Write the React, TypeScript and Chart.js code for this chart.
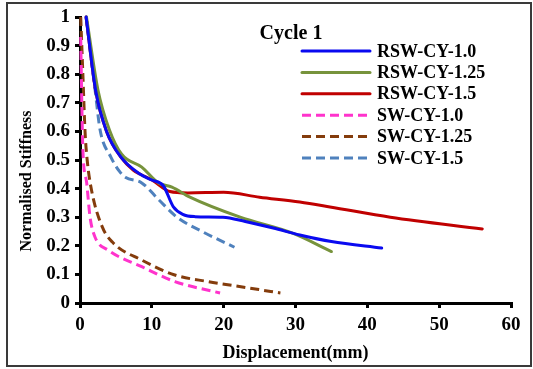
import React, { useEffect, useRef } from "react";
import { Chart, registerables } from "chart.js";

Chart.register(...registerables);

const FONT = "'Liberation Serif', 'Times New Roman', serif";

const seriesNames = ["RSW-CY-1.0", "RSW-CY-1.25", "RSW-CY-1.5", "SW-CY-1.0", "SW-CY-1.25", "SW-CY-1.5"];
const seriesColors = ["#0A0AF0", "#77933C", "#C00000", "#FF33CC", "#843C0C", "#4F81BD"];
const seriesDashed = [false, false, false, true, true, true];

const rswCy10X = [0.85, 2.2, 3.7, 5.7, 8.4, 10, 11.6, 13, 14.3, 16, 19.9, 23, 26.9, 30.6, 35, 42];
const rswCy10Y = [1.0, 0.74, 0.6, 0.51, 0.45, 0.43, 0.41, 0.336, 0.31, 0.302, 0.3, 0.285, 0.262, 0.238, 0.215, 0.192];

const rswCy125X = [0.9, 2.5, 4.1, 5.8, 8.6, 10.9, 12.8, 15.3, 22.3, 29.5, 35];
const rswCy125Y = [1.0, 0.745, 0.605, 0.52, 0.475, 0.42, 0.405, 0.37, 0.3, 0.245, 0.18];

const rswCy15X = [0.85, 2.2, 3.7, 5.7, 7.4, 8.4, 10, 12.5, 15, 20, 25, 30.6, 34.8, 43.2, 56];
const rswCy15Y = [1.0, 0.74, 0.6, 0.51, 0.465, 0.45, 0.43, 0.39, 0.385, 0.387, 0.37, 0.353, 0.336, 0.3, 0.259];

const swCy10X = [0.1, 0.25, 0.4, 0.93, 1.4, 2.1, 3.9, 8.6, 13.2, 19.5];
const swCy10Y = [0.93, 0.7, 0.535, 0.42, 0.3, 0.23, 0.185, 0.127, 0.075, 0.035];

const swCy125X = [0.1, 0.4, 0.7, 1.0, 1.6, 3.1, 4.5, 8.6, 13.2, 17.8, 21.6, 27.9];
const swCy125Y = [1.0, 0.8, 0.6, 0.5, 0.395, 0.266, 0.213, 0.15, 0.098, 0.075, 0.06, 0.035];

const swCy15X = [0.85, 2.1, 2.8, 4.3, 5.5, 6.3, 8.6, 11, 13.5, 17, 21.5];
const swCy15Y = [1.0, 0.745, 0.605, 0.51, 0.46, 0.44, 0.42, 0.36, 0.3, 0.25, 0.195];

const seriesX = [rswCy10X, rswCy125X, rswCy15X, swCy10X, swCy125X, swCy15X];
const seriesY = [rswCy10Y, rswCy125Y, rswCy15Y, swCy10Y, swCy125Y, swCy15Y];

const xTickValues = [0, 10, 20, 30, 40, 50, 60];
const xTickLabels = ["0", "10", "20", "30", "40", "50", "60"];
const yTickValues = [0, 0.1, 0.2, 0.3, 0.4, 0.5, 0.6, 0.7, 0.8, 0.9, 1];
const yTickLabels = ["0", "0.1", "0.2", "0.3", "0.4", "0.5", "0.6", "0.7", "0.8", "0.9", "1"];

const chartTitle = "Cycle 1";
const xTitle = "Displacement(mm)";
const yTitle = "Normalised Stiffness";

const DASH = [9, 5];

const framePlugin = {
  id: "frame",
  beforeDraw(chart: any) {
    const ctx = chart.ctx;
    ctx.save();
    ctx.fillStyle = "#ffffff";
    ctx.fillRect(0, 0, chart.width, chart.height);
    ctx.strokeStyle = "#3a3a3a";
    ctx.lineWidth = 2;
    ctx.strokeRect(7, 3, 524, 363);
    ctx.restore();
  },
};

const textPlugin = {
  id: "insideLegend",
  afterDraw(chart: any) {
    const ctx = chart.ctx;
    ctx.save();
    ctx.fillStyle = "#000";
    ctx.font = `bold 20px ${FONT}`;
    ctx.textAlign = "center";
    ctx.textBaseline = "middle";
    ctx.fillText(chartTitle, 291, 34);

    // y axis title, centred where the reference places it
    ctx.save();
    ctx.translate(27, 181);
    ctx.rotate(-Math.PI / 2);
    ctx.font = `bold 16px ${FONT}`;
    ctx.fillText(yTitle, 0, 0);
    ctx.restore();

    ctx.font = `bold 18px ${FONT}`;
    ctx.textAlign = "left";
    chart.data.datasets.forEach((ds: any, i: number) => {
      const y = 51 + i * 21.4;
      ctx.beginPath();
      ctx.strokeStyle = ds.borderColor;
      ctx.lineWidth = 3;
      ctx.lineCap = ds.borderDash && ds.borderDash.length ? "butt" : "round";
      ctx.setLineDash(ds.borderDash || []);
      ctx.moveTo(302, y);
      ctx.lineTo(370, y);
      ctx.stroke();
      ctx.setLineDash([]);
      ctx.fillStyle = "#000";
      ctx.fillText(ds.label, 377, y + 1);
    });
    ctx.restore();
  },
};

export default function App() {
  const ref = useRef<HTMLCanvasElement | null>(null);

  useEffect(() => {
    if (!ref.current) return;
    const datasets = seriesNames.map((name, i) => ({
      label: name,
      data: seriesX[i].map((x, j) => ({ x, y: seriesY[i][j] })),
      borderColor: seriesColors[i],
      backgroundColor: seriesColors[i],
      borderWidth: 3,
      borderDash: seriesDashed[i] ? DASH : [],
      borderCapStyle: seriesDashed[i] ? "butt" : "round",
      pointRadius: 0,
      pointHoverRadius: 0,
      fill: false,
      cubicInterpolationMode: "monotone",
      clip: 6,
    }));
    const tickFont = { family: FONT, size: 19, weight: "bold" as const };
    const chart = new Chart(ref.current, {
      type: "line",
      data: { datasets: datasets as any },
      plugins: [framePlugin, textPlugin],
      options: {
        responsive: false,
        animation: false,
        events: [],
        layout: { padding: { left: 0, top: 17, right: 22, bottom: 0 } },
        plugins: { legend: { display: false }, title: { display: false }, tooltip: { enabled: false } },
        scales: {
          x: {
            type: "linear",
            min: 0,
            max: 60,
            afterBuildTicks: (s: any) => {
              s.ticks = xTickValues.map((v) => ({ value: v }));
            },
            afterFit: (s: any) => {
              s.height = 66;
            },
            ticks: {
              callback: (_v: any, i: number) => xTickLabels[i],
              font: tickFont,
              color: "#000",
              padding: 6,
              maxRotation: 0,
              autoSkip: false,
            },
            grid: { display: true, drawOnChartArea: false, drawTicks: true, tickLength: 5, color: "#000", lineWidth: 3 },
            border: { display: true, color: "#000", width: 3 },
            title: {
              display: true,
              text: xTitle,
              color: "#000",
              font: { family: FONT, size: 18, weight: "bold" },
              padding: { top: 0, bottom: 5 },
            },
          },
          y: {
            type: "linear",
            min: 0,
            max: 1,
            afterBuildTicks: (s: any) => {
              s.ticks = yTickValues.map((v) => ({ value: v }));
            },
            afterFit: (s: any) => {
              s.width = 80;
            },
            ticks: {
              callback: (_v: any, i: number) => yTickLabels[i],
              font: tickFont,
              color: "#000",
              padding: 5,
              autoSkip: false,
            },
            grid: { display: true, drawOnChartArea: false, drawTicks: true, tickLength: 5, color: "#000", lineWidth: 3 },
            border: { display: true, color: "#000", width: 3 },
            title: { display: false },
          },
        },
      } as any,
    });
    return () => chart.destroy();
  }, []);

  return (
    <div style={{ position: "fixed", left: 0, top: 0, width: 533, height: 369, background: "#fff" }}>
      <canvas ref={ref} width={533} height={369} style={{ display: "block", width: 533, height: 369 }} />
    </div>
  );
}
